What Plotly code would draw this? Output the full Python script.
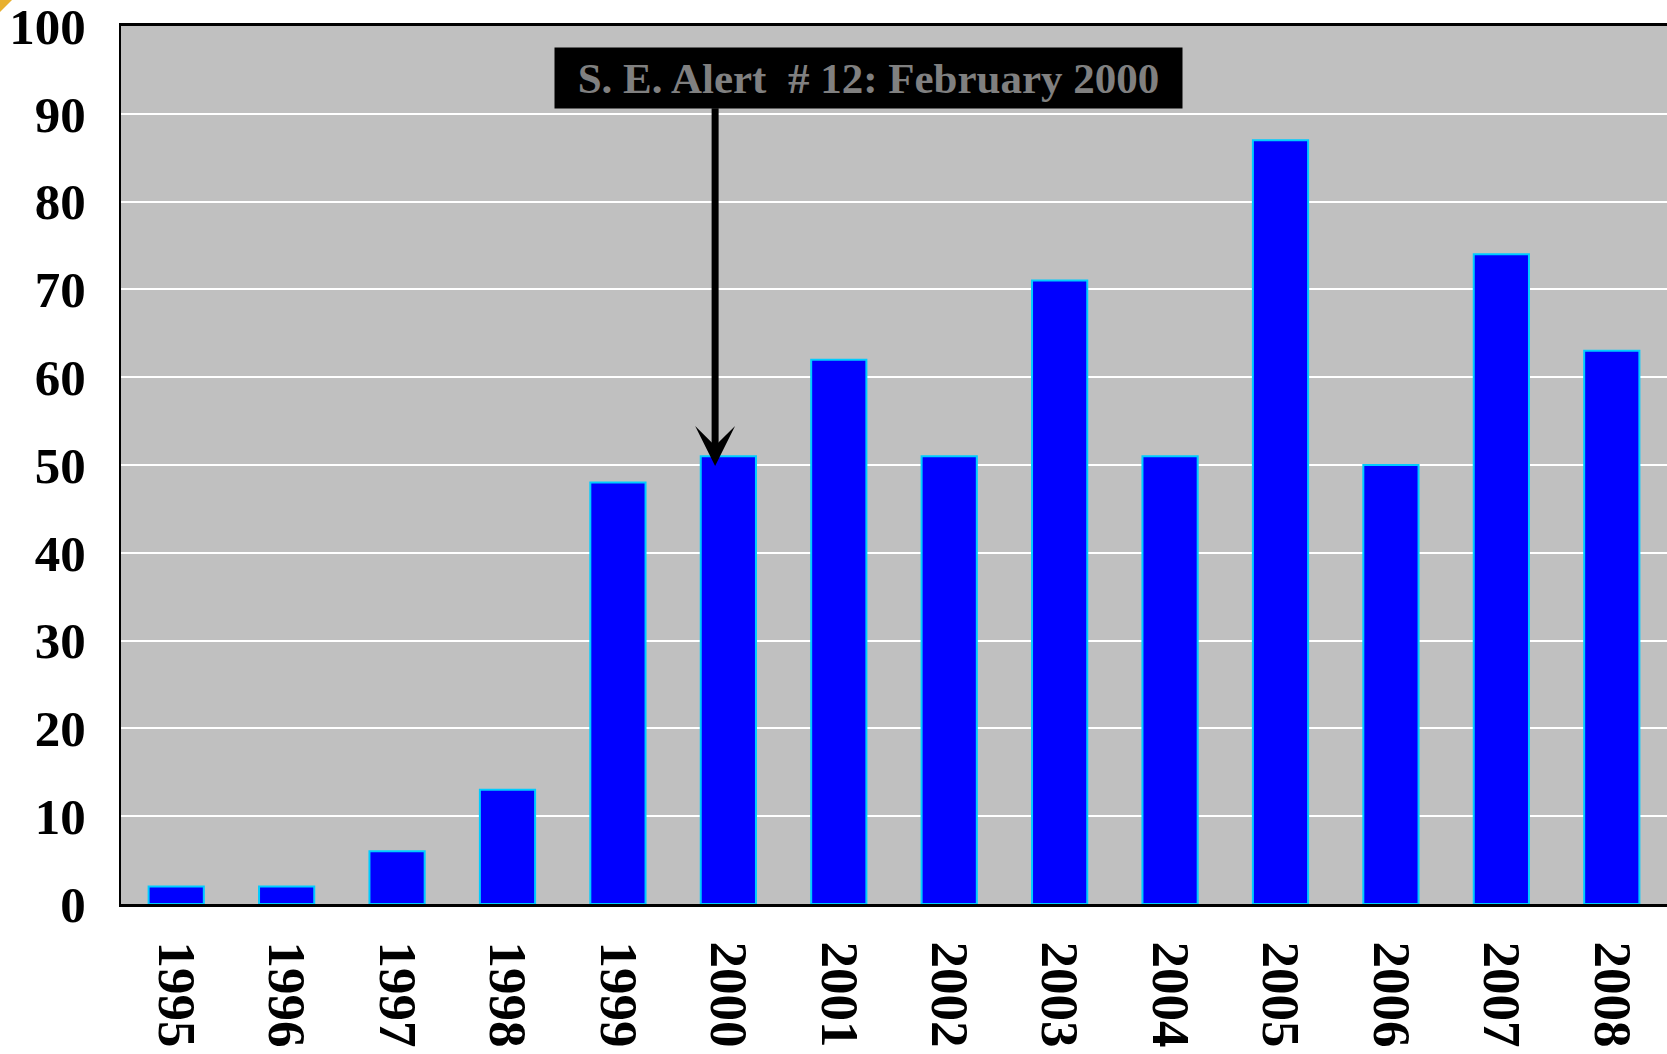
import plotly.graph_objects as go

years = ["1995", "1996", "1997", "1998", "1999", "2000", "2001",
         "2002", "2003", "2004", "2005", "2006", "2007", "2008"]
counts = [2, 2, 6, 13, 48, 51, 62, 51, 71, 51, 87, 50, 74, 63]
y_ticks = [0, 10, 20, 30, 40, 50, 60, 70, 80, 90, 100]
alert_text = "S. E. Alert  # 12: February 2000"
alert_year = "2000"

FONT = "Liberation Serif, Times New Roman, serif"

fig = go.Figure()
fig.add_trace(go.Bar(
    x=years, y=counts, width=0.5,
    marker=dict(color="#0000FF", line=dict(color="#00CCFF", width=2)),
))

ai = years.index(alert_year)
# label box
fig.add_annotation(
    x=ai + 1.27, y=94.1, xref="x", yref="y",
    text=alert_text, showarrow=False,
    font=dict(family=FONT, size=43, color="#808080", weight="bold"),
    bgcolor="#000000", width=625, height=58,
)
# arrow
fig.add_annotation(
    x=ai - 0.12, y=counts[ai] - 1.1, xref="x", yref="y",
    ax=ai - 0.12, ay=90.8, axref="x", ayref="y",
    text="", showarrow=True, arrowhead=3, arrowsize=0.95,
    arrowwidth=7, arrowcolor="#000000",
)

# small corner mark
fig.add_shape(type="path", xref="paper", yref="paper",
              path="M -0.07827 1.02961 L -0.0705 1.02961 L -0.07827 1.01595 Z",
              fillcolor="#E8B030", line=dict(width=0))

fig.update_layout(
    width=1667, height=1054,
    margin=dict(l=121, r=0, t=26, b=150, autoexpand=False),
    paper_bgcolor="#FFFFFF", plot_bgcolor="#C0C0C0",
    showlegend=False, bargap=0.5,
    font=dict(family=FONT, color="#000000"),
)
fig.update_xaxes(
    type="category", range=[-0.5, len(years) - 0.5],
    tickangle=90, ticklabelstandoff=24, automargin=False,
    tickfont=dict(family=FONT, size=53, color="#000000", weight="bold"),
    showline=True, linecolor="#000000", linewidth=3, mirror=True,
    showgrid=False, ticks="", ticklabeloverflow="allow",
)
fig.update_yaxes(
    range=[0, 100], tickvals=y_ticks, ticklabelstandoff=23, automargin=False,
    tickfont=dict(family=FONT, size=51, color="#000000", weight="bold"),
    showline=True, linecolor="#000000", linewidth=2,
    showgrid=True, gridcolor="#FFFFFF", gridwidth=2,
    zeroline=False, ticks="", ticklabeloverflow="allow",
)

fig.write_html("out.html",
               config={"displayModeBar": False},
               post_script="document.body.style.margin='0';document.body.style.overflow='hidden';")
